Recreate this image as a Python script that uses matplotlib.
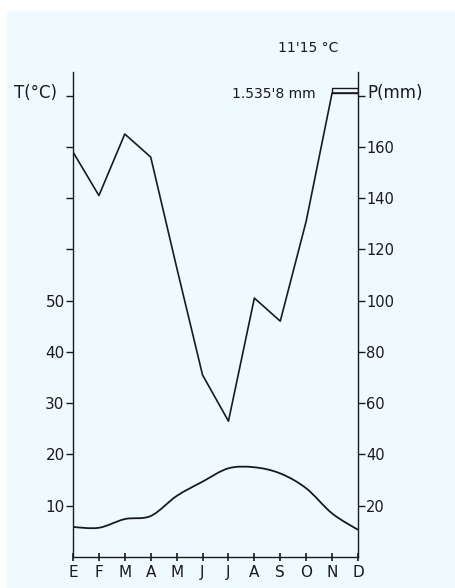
import numpy as np
import matplotlib
matplotlib.use("Agg")
import matplotlib.pyplot as plt
from matplotlib.path import Path
from matplotlib.patches import PathPatch, Rectangle

# datos del climograma
months = ["E", "F", "M", "A", "M", "J", "J", "A", "S", "O", "N", "D"]
temp_c = [5.85, 5.7, 7.4, 8.0, 11.9, 14.7, 17.3, 17.5, 16.3, 13.4, 8.5, 5.3]
precip_mm = [158, 141, 165, 156, 113, 71, 53, 101, 92, 131, 181, 181]
t_ticks = [10, 20, 30, 40, 50, 60, 70, 80, 90]
t_labels = ["10", "20", "30", "40", "50", "", "", "", ""]
p_ticks = [20, 40, 60, 80, 100, 120, 140, 160, 180]
p_labels = ["20", "40", "60", "80", "100", "120", "140", "160", ""]
mean_temp_txt = "11'15 °C"
total_precip_txt = "1.535'8 mm"

W, H = 455, 588
ink = "#1a1a1a"
plt.rcParams["font.family"] = ["DejaVu Sans"]

fig = plt.figure(figsize=(W / 100, H / 100), dpi=100, facecolor="white")
# fondo celeste con borde blanco arriba e izquierda
fig.patches.append(Rectangle((7 / W, 0), 1 - 7 / W, 1 - 11 / H,
                             transform=fig.transFigure, facecolor="#eefaff",
                             edgecolor="none", zorder=-10))

ax = fig.add_axes([73 / W, 31 / H, 285 / W, 485 / H])
ax.set_facecolor("none")
ax2 = ax.twinx()
ax2.set_facecolor("none")

x = np.arange(len(months))
ax.set_xlim(0, 11)
ax.set_ylim(0, 94.6)
ax2.set_ylim(0, 189.2)

# temperatura: curva suave a mano alzada
pts = np.column_stack([x, temp_c])
verts = [tuple(pts[0])]
codes = [Path.MOVETO]
n = len(pts)
for i in range(n - 1):
    p0 = pts[max(i - 1, 0)]
    p1 = pts[i]
    p2 = pts[i + 1]
    p3 = pts[min(i + 2, n - 1)]
    c1 = p1 + (p2 - p0) / 6
    c2 = p2 - (p3 - p1) / 6
    verts += [tuple(c1), tuple(c2), tuple(p2)]
    codes += [Path.CURVE4] * 3
ax.add_patch(PathPatch(Path(verts, codes), fill=False, edgecolor=ink, lw=1.3))

# precipitación
ax2.plot(x, precip_mm, color=ink, lw=1.2)
ax2.add_patch(Rectangle((10, 181), 1, 2, fill=False, edgecolor=ink, lw=1.0))

# ejes
for a in (ax, ax2):
    a.spines["top"].set_visible(False)
ax2.spines["left"].set_visible(False)
ax2.spines["bottom"].set_visible(False)
ax.spines["right"].set_visible(False)
for s in ("left", "bottom"):
    ax.spines[s].set_color(ink)
    ax.spines[s].set_linewidth(1.0)
ax2.spines["right"].set_color(ink)
ax2.spines["right"].set_linewidth(1.0)

ax.set_xticks(x)
ax.set_xticklabels(months, fontsize=11)
ax.tick_params(axis="x", direction="inout", length=6, width=1.2, colors=ink, pad=3)
ax.set_yticks(t_ticks)
ax.set_yticklabels(t_labels, fontsize=11)
ax.tick_params(axis="y", direction="out", length=5, width=1, colors=ink, pad=1)
ax2.set_yticks(p_ticks)
ax2.set_yticklabels(p_labels, fontsize=10.5)
ax2.tick_params(axis="y", direction="out", length=5, width=1, colors=ink, pad=1)

# textos
fig.text(308 / W, 1 - 48 / H, mean_temp_txt, ha="center", va="center", fontsize=10, color=ink)
fig.text(316 / W, 1 - 94 / H, total_precip_txt, ha="right", va="center", fontsize=10, color=ink)
fig.text(35 / W, 1 - 93 / H, "T(°C)", ha="center", va="center", fontsize=12, color=ink)
fig.text(367 / W, 1 - 93 / H, "P(mm)", ha="left", va="center", fontsize=12, color=ink)

fig.savefig("out.png", dpi=100, facecolor=fig.get_facecolor())
